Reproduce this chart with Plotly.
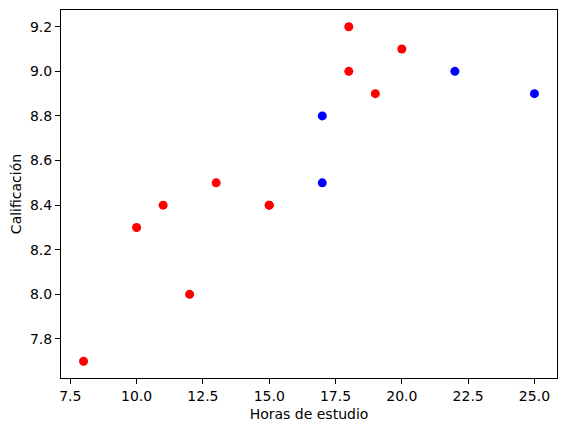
import plotly.graph_objects as go

horas = [8, 10, 11, 12, 13, 15, 15, 18, 18, 19, 20, 17, 17, 22, 25]
calificacion = [7.7, 8.3, 8.4, 8.0, 8.5, 8.4, 8.4, 9.2, 9.0, 8.9, 9.1, 8.8, 8.5, 9.0, 8.9]
colores = ["red"] * 11 + ["blue"] * 4

fig = go.Figure()
fig.add_trace(go.Scatter(
    x=horas, y=calificacion, mode="markers",
    marker=dict(color=colores, size=9, line=dict(width=0)),
    showlegend=False,
))

axis_common = dict(
    showgrid=False, zeroline=False, showline=True, linecolor="black", linewidth=1,
    mirror=True, ticks="outside", ticklen=5, tickcolor="black", tickwidth=1,
    automargin=False,
    tickfont=dict(family="DejaVu Sans", size=14, color="black"),
)

fig.update_layout(
    width=559, height=416,
    margin=dict(l=53, r=10, t=2, b=46, autoexpand=False),
    plot_bgcolor="white", paper_bgcolor="white",
    font=dict(family="DejaVu Sans", size=14, color="black"),
    xaxis=dict(range=[7.15, 25.85], tickvals=[7.5, 10, 12.5, 15, 17.5, 20, 22.5, 25],
               ticktext=["7.5", "10.0", "12.5", "15.0", "17.5", "20.0", "22.5", "25.0"],
               title=dict(text="Horas de estudio", standoff=6, font=dict(size=14)), **axis_common),
    yaxis=dict(range=[7.625, 9.275], tickvals=[7.8, 8.0, 8.2, 8.4, 8.6, 8.8, 9.0, 9.2],
               ticktext=["7.8", "8.0", "8.2", "8.4", "8.6", "8.8", "9.0", "9.2"],
               title=dict(text="Calificación", standoff=8, font=dict(size=14)), **axis_common),
)

fig.write_html("out.html")
